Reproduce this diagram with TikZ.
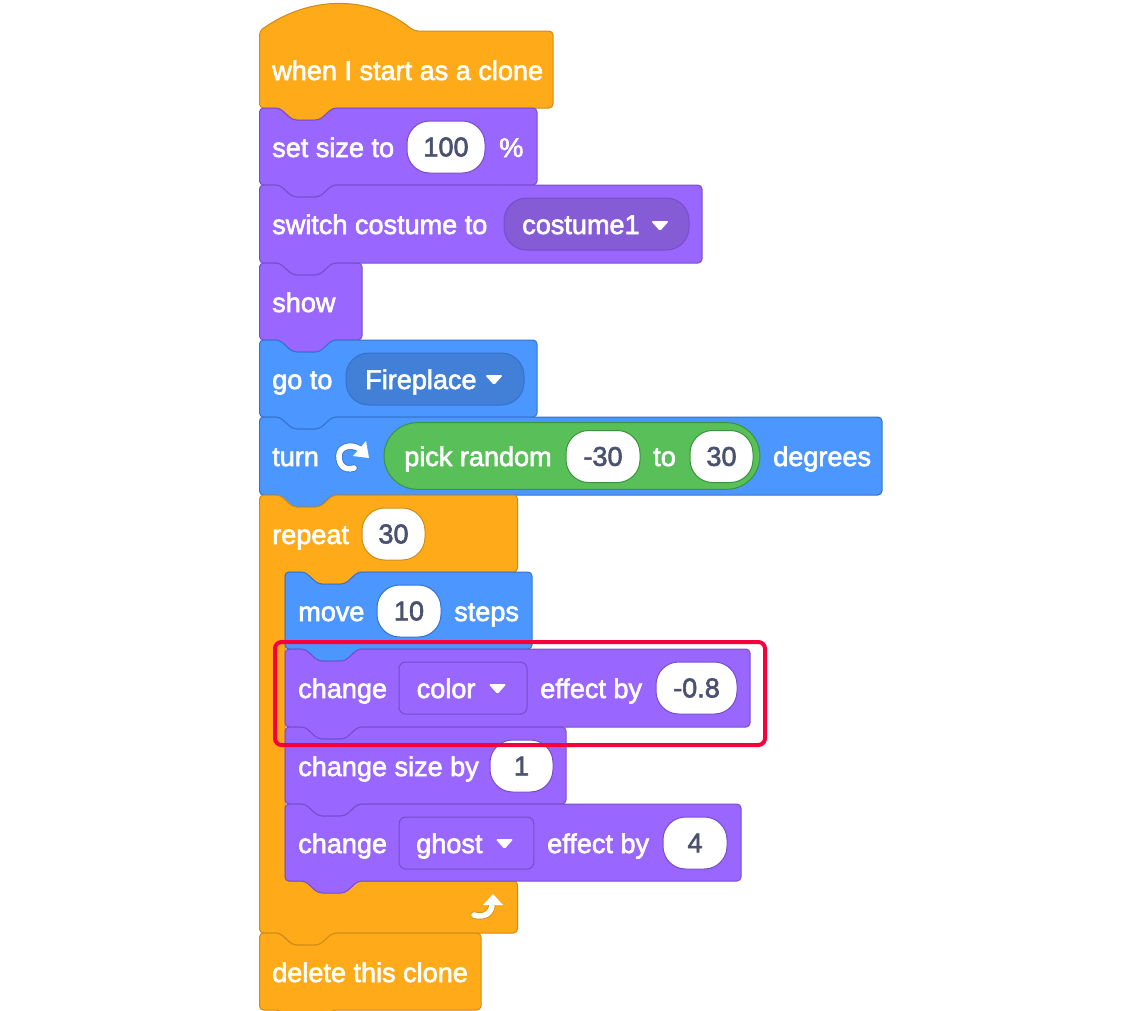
\documentclass[tikz,border=0pt]{standalone}
\usepackage{fontspec}
\usepackage{xcolor}
\setmainfont{Liberation Sans}[BoldFont={Liberation Sans},BoldFeatures={FakeBold=2.2}]
\definecolor{looksfill}{HTML}{9966FF}
\definecolor{looksline}{HTML}{774DCB}
\definecolor{looksdrop}{HTML}{855CD6}
\definecolor{motionfill}{HTML}{4C97FF}
\definecolor{motionline}{HTML}{3373CC}
\definecolor{motiondrop}{HTML}{4280D7}
\definecolor{controlfill}{HTML}{FFAB19}
\definecolor{controlline}{HTML}{CF8B17}
\definecolor{mathfill}{HTML}{59C059}
\definecolor{mathline}{HTML}{389438}
\definecolor{valuetext}{HTML}{4A5270}
\definecolor{markred}{HTML}{F5003C}
\tikzset{
  looksblock/.style={draw=looksline,fill=looksfill,line width=0.75pt},
  motionblock/.style={draw=motionline,fill=motionfill,line width=0.75pt},
  controlblock/.style={draw=controlline,fill=controlfill,line width=0.75pt},
  label/.style={anchor=base west,inner sep=0pt,text=white,font=\fontsize{20.3}{24}\selectfont\bfseries},
  pillinput/.style={draw,fill=white,line width=0.75pt,rounded corners=17pt,inner sep=0pt,minimum width=#1*0.75pt,minimum height=39pt,text=valuetext,font=\fontsize{20.3}{24}\selectfont\bfseries},
  dropbox/.style={draw,line width=0.75pt,rounded corners=#1,inner sep=0pt,minimum height=39pt},
}
\newcommand{\stackblock}[5]{%
  \draw[#5,rounded corners=3pt] (#1+10,#2) -- (#1+20,#2) -- (#1+33,#2+12) -- (#1+60,#2+12) -- (#1+73,#2) -- (#3,#2) -- (#3,#4) -- (#1+73,#4) -- (#1+60,#4+12) -- (#1+33,#4+12) -- (#1+20,#4) -- (#1,#4) -- (#1,#2) -- cycle;}
\newcommand{\dropmark}[2]{%
  \fill[white,rounded corners=1.2pt] (#1-9,#2-5) -- (#1+9,#2-5) -- (#1,#2+5) -- cycle;}
\begin{document}
\begin{tikzpicture}[x=0.75pt,y=-0.75pt]
\useasboundingbox (0,0) rectangle (1140,1011);
\draw[controlblock,rounded corners=3pt] (259.5,31) .. controls (310,-5) and (370,-5) .. (414,31) -- (553,31) -- (553,108) -- (333,108) -- (320,120) -- (293,120) -- (280,108) -- (259.5,108) -- cycle;
\draw (272,80) node[label](clonestart) {when I start as a clone};
\stackblock{259.5}{108}{537}{185}{looksblock}
\draw (272,157) node[label](setsize) {set size to};
\draw (446,147) node[pillinput=78,draw=looksline](setsizevalue) {100};
\draw (499,157) node[label](setsizeunit) {\%};
\stackblock{259.5}{185}{702}{263}{looksblock}
\draw (272,234) node[label](switchcostume) {switch costume to};
\draw (596.5,224) node[dropbox=17pt,draw=looksline,fill=looksdrop,minimum width=138.75pt](costumedrop) {};
\draw (522,234) node[label](costumename) {costume1};
\dropmark{660}{226}
\stackblock{259.5}{263}{362}{340}{looksblock}
\draw (272,312) node[label](showblock) {show};
\stackblock{259.5}{340}{537}{417}{motionblock}
\draw (272,389) node[label](goto) {go to};
\draw (435,379) node[dropbox=17pt,draw=motionline,fill=motiondrop,minimum width=133.5pt](placedrop) {};
\draw (365,389) node[label](placename) {Fireplace};
\dropmark{494}{380}
\stackblock{259.5}{417}{882}{495}{motionblock}
\draw (272,466) node[label](turnblock) {turn};
\draw[motionline,line width=5.4pt,line cap=round] (354,468) .. controls (344,471) and (339,465) .. (339,456) .. controls (339,447) and (350,443) .. (360,449);
\draw[white,line width=4.2pt,line cap=round] (354,468) .. controls (344,471) and (339,465) .. (339,456) .. controls (339,447) and (350,443) .. (360,449);
\fill[white] (366,441) -- (369,458) -- (353,456) -- cycle;
\draw (572,456) node[draw=mathline,fill=mathfill,line width=0.75pt,rounded corners=25pt,inner sep=0pt,minimum width=282pt,minimum height=50pt](randompill) {};
\draw (404,466) node[label](pickrandom) {pick random};
\draw (603,456.5) node[pillinput=74,draw=mathline](randomlow) {-30};
\draw (653,466) node[label](randomto) {to};
\draw (721.5,456.5) node[pillinput=63,draw=mathline](randomhigh) {30};
\draw (773,466) node[label](turnunit) {degrees};
\draw[controlblock,rounded corners=3pt] (270,495) -- (280,495) -- (293,507) -- (320,507) -- (333,495) -- (517.5,495) -- (517.5,572) -- (358,572) -- (345,584) -- (318,584) -- (305,572) -- (285,572) -- (285,881) -- (517.5,881) -- (517.5,933) -- (333,933) -- (320,945) -- (293,945) -- (280,933) -- (259.5,933) -- (259.5,495) -- cycle;
\draw (272,544) node[label](repeatblock) {repeat};
\draw (393.5,534) node[pillinput=63,draw=controlline](repeatvalue) {30};
\draw[controlline,line width=5.4pt,line cap=round] (492,902) .. controls (493,914) and (483,918) .. (474,915);
\draw[white,line width=4.2pt,line cap=round] (492,902) .. controls (493,914) and (483,918) .. (474,915);
\fill[white] (493,894) -- (503,905) -- (483,905) -- cycle;
\stackblock{285}{572}{532}{649}{motionblock}
\draw (298,621) node[label](moveblock) {move};
\draw (409,611) node[pillinput=64,draw=motionline](movevalue) {10};
\draw (454,621) node[label](moveunit) {steps};
\stackblock{285}{649}{750}{727}{looksblock}
\draw (298,698) node[label](changecolor) {change};
\draw (463,688) node[dropbox=5pt,draw=looksline,fill=looksfill,minimum width=96pt](colordrop) {};
\draw (416.5,698) node[label](colorname) {color};
\dropmark{497.5}{689}
\draw (540,698) node[label](coloreffect) {effect by};
\draw (696.5,688) node[pillinput=81,draw=looksline](colorvalue) {-0.8};
\stackblock{285}{727}{566}{804}{looksblock}
\draw (298,776) node[label](changesize) {change size by};
\draw (521.5,766) node[pillinput=63,draw=looksline](changesizevalue) {1};
\stackblock{285}{804}{741}{881}{looksblock}
\draw (298,853) node[label](changeghost) {change};
\draw (466.5,843) node[dropbox=5pt,draw=looksline,fill=looksfill,minimum width=101pt](ghostdrop) {};
\draw (416,853) node[label](ghostname) {ghost};
\dropmark{504.5}{844}
\draw (547,853) node[label](ghosteffect) {effect by};
\draw (695,843) node[pillinput=64,draw=looksline](ghostvalue) {4};
\stackblock{259.5}{933}{481}{1010}{controlblock}
\draw (272,982) node[label](deleteclone) {delete this clone};
\draw[markred,line width=3pt,rounded corners=5pt] (275,642) rectangle (765,745);
\end{tikzpicture}
\end{document}
